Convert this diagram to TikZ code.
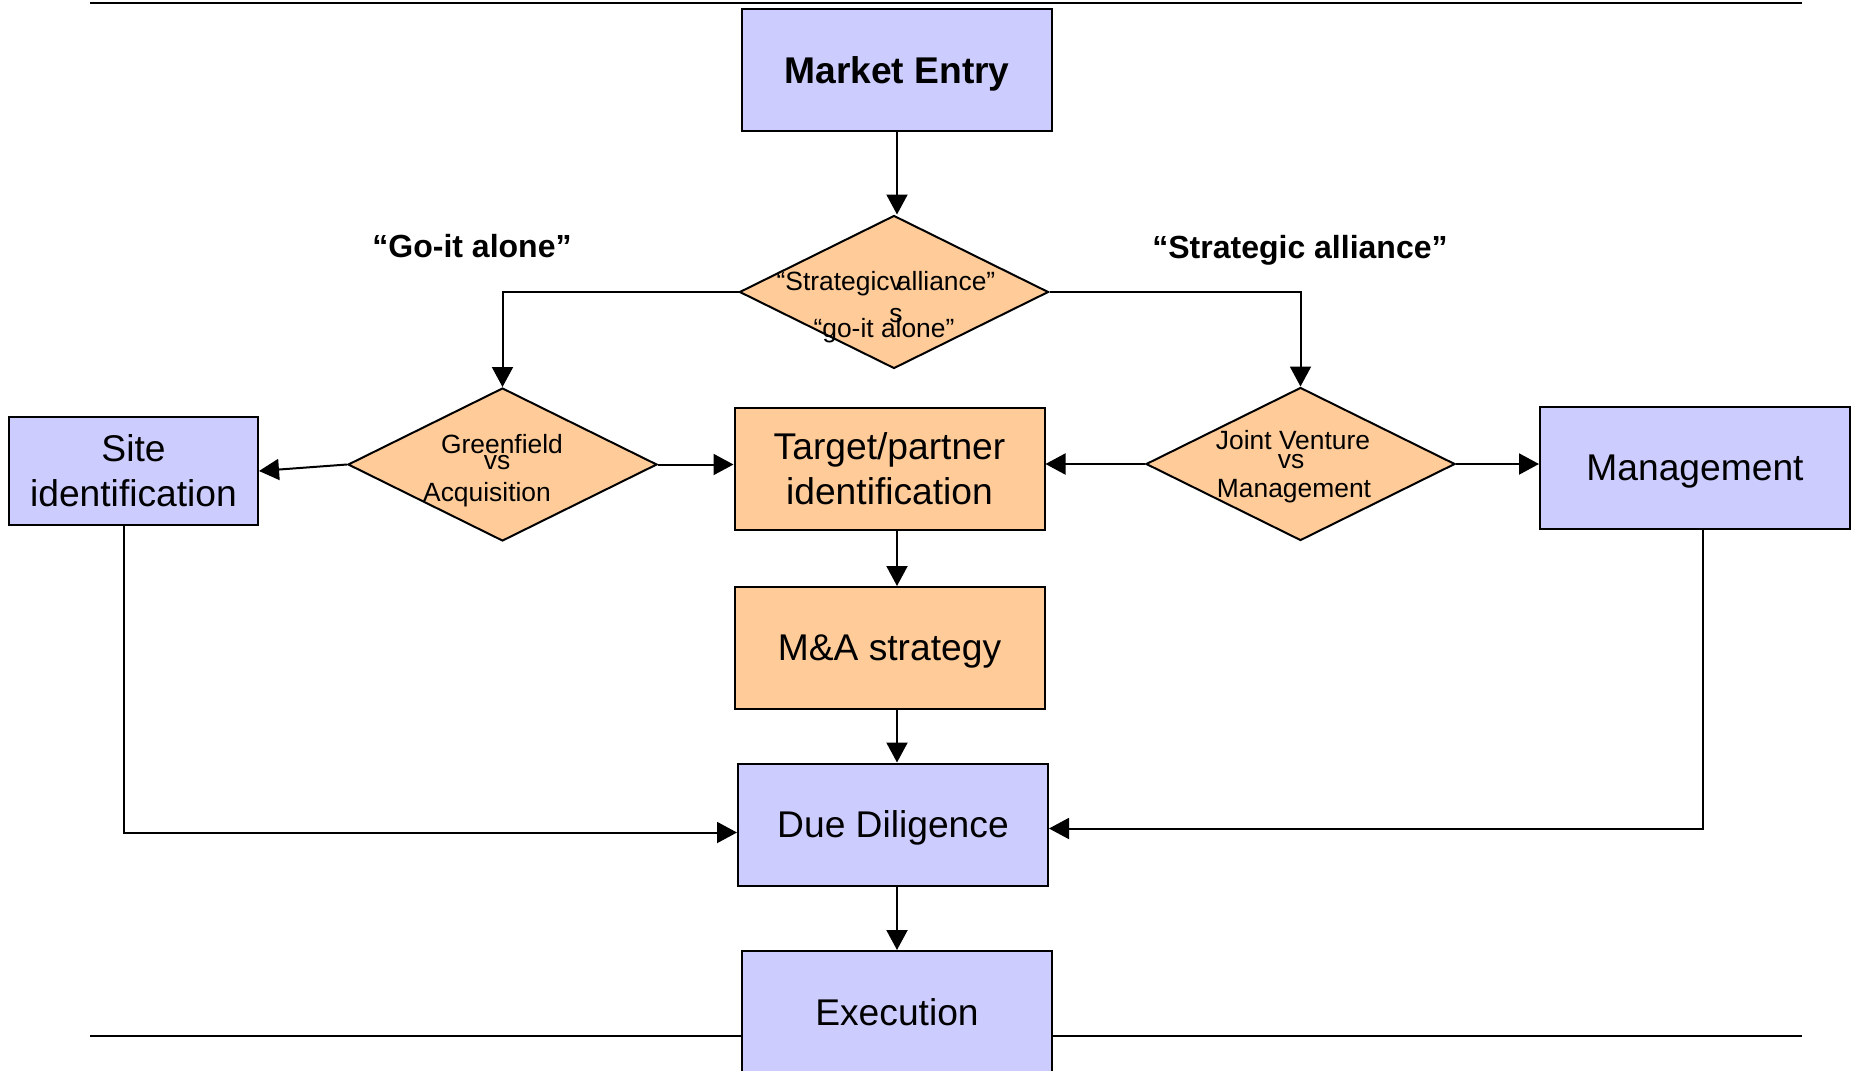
\documentclass[tikz,border=0pt]{standalone}
\usepackage{fontspec}
\setmainfont{Liberation Sans}
\usetikzlibrary{arrows.meta,shapes.geometric}
\definecolor{boxblue}{RGB}{204,204,255}
\definecolor{boxorange}{RGB}{255,204,153}

\begin{document}
\begin{tikzpicture}[x=0.5pt,y=-0.5pt,
  blue box/.style={draw,line width=1pt,fill=boxblue,minimum width=155pt,minimum height=61pt,
    inner sep=0pt,align=center,font=\fontsize{18.6}{22.5}\selectfont},
  orange box/.style={blue box,fill=boxorange},
  single/.style={text depth=0pt},
  choice/.style={draw,line width=1pt,fill=boxorange,diamond,minimum width=154.5pt,
    minimum height=76.5pt,inner sep=0pt},
  choice text/.style={inner sep=0pt,anchor=base,font=\fontsize{13.2}{13.2}\selectfont},
  branch/.style={font=\bfseries\fontsize{16}{19}\selectfont},
  arr/.style={line width=1pt,-{Triangle[length=10pt,width=10.5pt]}},
  rule/.style={line width=1.3pt}]

\useasboundingbox (0,0) rectangle (1854,1071);

% page rules
\draw[rule] (90,3) -- (1802,3);
\draw[rule] (90,1036) -- (1802,1036);

\coordinate (spine) at (897,0);

\node[blue box,single,font=\bfseries\fontsize{18.6}{22.5}\selectfont] (entry) at (897,70) {Market Entry};

\node[choice] (sa) at (894,292) {};
\node[choice text] (sa_1) at (886,290) {“Strategic\rlap{v} alliance”};
\node[choice text] (sa_2) at (896,322) {s};
\node[choice text] (sa_3) at (884,337) {“go-it alone”};

\node[branch] (alone) at (472,246) {“Go-it alone”};
\node[branch] (alliance) at (1300,250) {“Strategic alliance”};

\node[choice] (gva) at (502.5,464.5) {};
\node[choice text] (gva_1) at (502,453) {Greenfield};
\node[choice text] (gva_2) at (497,469) {vs};
\node[choice text] (gva_3) at (487,501) {Acquisition};

\node[choice] (jvm) at (1300.5,464) {};
\node[choice text] (jvm_1) at (1293,449) {Joint Venture};
\node[choice text] (jvm_2) at (1291,468) {vs};
\node[choice text] (jvm_3) at (1294,497) {Management};

\node[blue box,minimum width=124.5pt,minimum height=54pt] (site) at (133.5,471) {Site\\identification};
\node[orange box] (target) at (889.5,468.5) {Target/partner\\identification};
\node[blue box,single] (mgmt) at (1695,468) {Management};
\node[orange box,single] (mna) at (889.5,648) {M\&A strategy};
\node[blue box,single] (dd) at (893,824.5) {Due Diligence};
\node[blue box,single] (exec) at (897,1012) {Execution};

% connectors
\draw[arr] (entry.south) -- (entry.south |- sa.north);
\draw[arr] (sa.west) -| (gva.north);
\draw[arr] (sa.east) -| (jvm.north);
\draw[arr] (gva.west) -- (site.east);
\draw[arr] (gva.east) -- (gva.east -| target.west);
\draw[arr] (jvm.west) -- (jvm.west -| target.east);
\draw[arr] (jvm.east) -- (jvm.east -| mgmt.west);
\draw[arr] (target.south -| spine) -- (mna.north -| spine);
\draw[arr] (mna.south -| spine) -- (dd.north -| spine);
\draw[arr] (dd.south -| spine) -- (exec.north -| spine);
\draw[arr] ([xshift=-5pt]site.south) |- ([yshift=-4pt]dd.west);
\draw[arr] ([xshift=4pt]mgmt.south) |- ([yshift=-2pt]dd.east);

\end{tikzpicture}
\end{document}
